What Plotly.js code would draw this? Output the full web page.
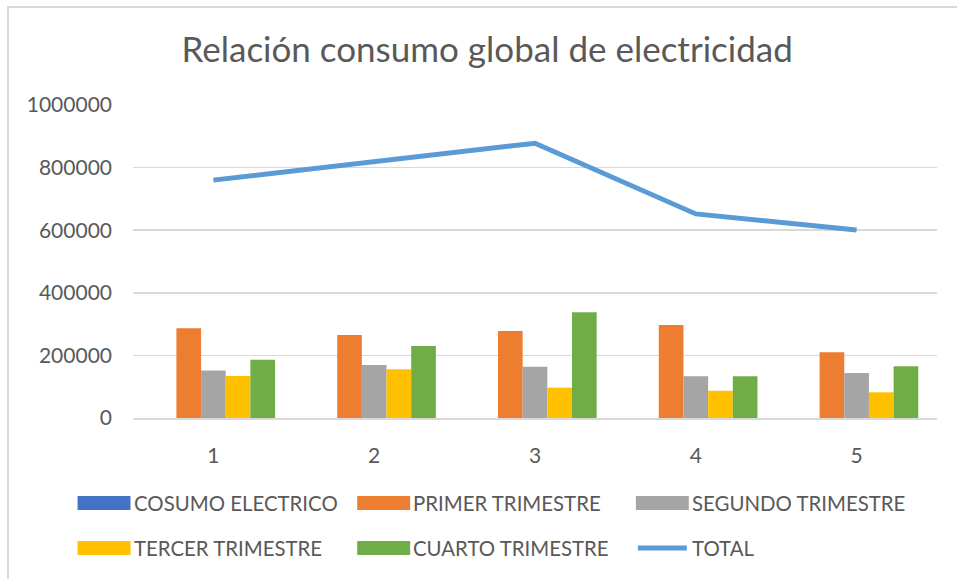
<!DOCTYPE html>
<html>
<head>
<meta charset="utf-8">
<script src="https://cdn.plot.ly/plotly-3.0.1.min.js"></script>
<style>
  body { margin: 0; background: #fff; }
  #frame { position: absolute; left: 7px; top: 6px; width: 980px; height: 600px;
           border-left: 2px solid #d9d9d9; border-top: 2px solid #d9d9d9; pointer-events: none; }
  #chart { position: absolute; left: 0; top: 0; width: 957px; height: 579px; }
</style>
</head>
<body>
<div id="frame"></div>
<div id="chart"></div>
<script>
// Chart data
const categories = ['1', '2', '3', '4', '5'];
const consumoElectrico = [1, 2, 3, 4, 5];
const primerTrimestre = [287000, 265000, 278000, 297000, 210000];
const segundoTrimestre = [152000, 169000, 164000, 133000, 144000];
const tercerTrimestre = [134000, 156000, 97000, 87000, 82000];
const cuartoTrimestre = [186000, 230000, 338000, 133000, 165000];
const total = [760000, 820000, 878000, 652000, 601000];

const seriesNames = ['COSUMO ELECTRICO', 'PRIMER TRIMESTRE', 'SEGUNDO TRIMESTRE',
                     'TERCER TRIMESTRE', 'CUARTO TRIMESTRE', 'TOTAL'];
const seriesColors = ['#4472C4', '#ED7D31', '#A5A5A5', '#FFC000', '#70AD47', '#5B9BD5'];

const W = 957, H = 579;
const M = {l: 132.5, r: 19.5, t: 105, b: 161};
// pixel -> paper helpers for the hand-drawn legend
const px = x => (x - M.l) / (W - M.l - M.r);
const py = y => (H - M.b - y) / (H - M.t - M.b);

const font = 'Lato, "Open Sans", sans-serif';
const textColor = '#595959';

function barTrace(i, values) {
    return {
        x: categories, y: values, name: seriesNames[i], type: 'bar',
        marker: {color: seriesColors[i]}, hoverinfo: 'y'
    };
}

const data = [
    barTrace(0, consumoElectrico),
    barTrace(1, primerTrimestre),
    barTrace(2, segundoTrimestre),
    barTrace(3, tercerTrimestre),
    barTrace(4, cuartoTrimestre),
    {
        x: categories, y: total, name: seriesNames[5], type: 'scatter', mode: 'lines',
        line: {color: seriesColors[5], width: 5}
    }
];

// Legend built from shapes + annotations (Excel-style wide swatches)
const legendPos = [[77, 503], [357, 503], [636, 503], [77, 548], [357, 548], [636, 548]];
const shapes = [];
const annotations = [];
legendPos.forEach(([x, y], i) => {
    if (i === 5) {
        shapes.push({type: 'line', xref: 'paper', yref: 'paper',
            x0: px(x + 2), x1: px(x + 51), y0: py(y), y1: py(y),
            line: {color: seriesColors[i], width: 5}});
    } else {
        shapes.push({type: 'rect', xref: 'paper', yref: 'paper',
            x0: px(x), x1: px(x + 53), y0: py(y - 7), y1: py(y + 7),
            fillcolor: seriesColors[i], line: {width: 0}});
    }
    annotations.push({xref: 'paper', yref: 'paper', x: px(x + 54), y: py(y),
        xanchor: 'left', yanchor: 'middle', showarrow: false, text: seriesNames[i],
        font: {family: font, size: 20.4, color: textColor}});
});

const layout = {
    width: W, height: H,
    margin: M,
    paper_bgcolor: 'rgba(0,0,0,0)',
    plot_bgcolor: 'rgba(0,0,0,0)',
    showlegend: false,
    title: {
        text: 'Relación consumo global de electricidad',
        xref: 'container', x: 0.509, y: 1 - 50 / H, yanchor: 'middle', xanchor: 'center',
        font: {family: font, size: 35, color: textColor}
    },
    barmode: 'group',
    bargap: 0.233,
    bargroupgap: 0,
    xaxis: {
        type: 'category',
        showline: true, linecolor: '#d9d9d9', linewidth: 1.5,
        showgrid: false, ticks: '', ticklabelstandoff: 18,
        tickfont: {family: font, size: 21, color: textColor}
    },
    yaxis: {
        range: [0, 1000000], tickvals: [0, 200000, 400000, 600000, 800000, 1000000],
        tickformat: 'd', showgrid: true, gridcolor: '#d9d9d9', gridwidth: 1.5,
        zeroline: false, showline: false, ticks: '', ticklabelstandoff: 20,
        tickfont: {family: font, size: 21, color: textColor}
    },
    shapes: shapes,
    annotations: annotations
};

Plotly.newPlot('chart', data, layout, {displayModeBar: false, staticPlot: true});
</script>
</body>
</html>
